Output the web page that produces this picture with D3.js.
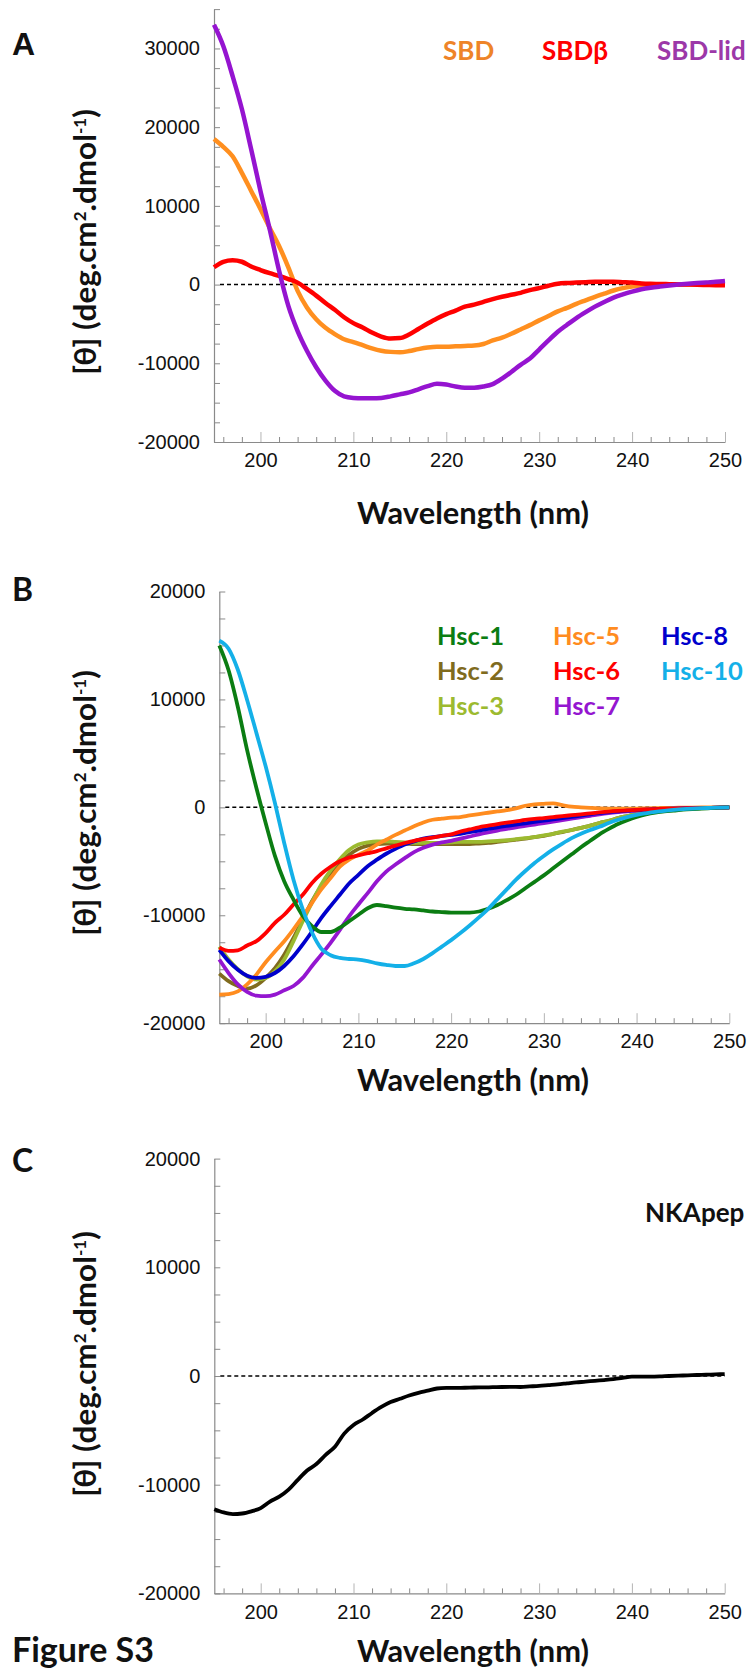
<!DOCTYPE html>
<html>
<head>
<meta charset="utf-8">
<script src="https://cdn.jsdelivr.net/npm/d3@7"></script>
<style>
body { margin: 0; background: #fff; }
svg text { font-family: Lato, "Open Sans", sans-serif; }
.tick text { font-family: "Liberation Sans", Arial, sans-serif; font-size: 20px; fill: #111; }
</style>
</head>
<body>
<svg id="fig" width="752" height="1674"></svg>
<script>
var svg = d3.select("#fig");

// Wavelengths (nm)
var wavelengths = [195,196,197,198,199,200,201,202,203,204,205,206,207,208,209,210,211,212,213,214,
                   215,216,217,218,219,220,221,222,223,224,225,226,227,228,229,230,231,232,233,234,
                   235,236,237,238,239,240,241,242,243,244,245,246,247,248,249,250];

// Panel A
var sbd = [18500,17500,16300,14200,11900,9600,7200,4900,2200,-800,
           -2900,-4400,-5500,-6300,-6950,-7300,-7700,-8100,-8400,-8550,
           -8600,-8450,-8200,-8000,-7900,-7900,-7850,-7800,-7750,-7550,
           -7100,-6750,-6250,-5700,-5150,-4550,-4000,-3400,-2950,-2450,
           -2000,-1550,-1150,-750,-450,-250,-120,-50,-10,0,
           0,0,0,0,0,0];
var sbdBeta = [2200,2900,3100,2900,2300,1850,1450,1100,700,250,
               -550,-1400,-2350,-3200,-4150,-4900,-5450,-6100,-6600,-6850,
               -6800,-6350,-5650,-4950,-4300,-3750,-3300,-2800,-2550,-2200,
               -1850,-1550,-1300,-1050,-700,-450,-150,100,200,250,
               300,350,350,350,300,250,150,100,80,50,
               20,0,-20,-50,-80,-100];
var sbdLid = [33000,30300,26500,22300,17200,11900,7000,1800,-2700,-5900,
              -8400,-10500,-12200,-13500,-14200,-14400,-14450,-14450,-14400,-14200,
              -13950,-13700,-13300,-12900,-12600,-12700,-12950,-13100,-13100,-12950,
              -12650,-11950,-11100,-10200,-9400,-8250,-7100,-6000,-5100,-4250,
              -3500,-2800,-2200,-1650,-1250,-900,-600,-400,-250,-120,
              0,100,200,280,350,450];

// Panel B
var hsc1 = [15000,12700,9300,5300,1800,-1450,-4500,-6850,-8550,-10050,
            -11000,-11550,-11550,-11150,-10550,-9950,-9350,-9050,-9150,-9300,
            -9400,-9450,-9550,-9650,-9700,-9750,-9750,-9750,-9650,-9400,
            -9050,-8600,-8100,-7500,-6900,-6300,-5650,-5000,-4350,-3700,
            -3100,-2500,-2000,-1550,-1200,-900,-650,-480,-380,-300,
            -220,-160,-110,-70,-30,0];
var hsc2 = [-15400,-16100,-16550,-16800,-16500,-15800,-14900,-13650,-12100,-10400,
            -8700,-7300,-6100,-5100,-4400,-3850,-3550,-3400,-3350,-3350,
            -3350,-3400,-3400,-3400,-3400,-3400,-3400,-3400,-3350,-3300,
            -3200,-3100,-3000,-2900,-2750,-2650,-2450,-2300,-2100,-1900,
            -1700,-1450,-1250,-1000,-800,-600,-480,-380,-300,-230,
            -170,-120,-80,-50,-20,0];
var hsc3 = [-12900,-14100,-15000,-15650,-15950,-15800,-15200,-14100,-12400,-10550,
            -8800,-7150,-5850,-4800,-3950,-3450,-3250,-3150,-3150,-3200,
            -3250,-3300,-3300,-3300,-3300,-3250,-3200,-3200,-3200,-3150,
            -3100,-3050,-2950,-2850,-2750,-2600,-2450,-2250,-2100,-1900,
            -1700,-1450,-1250,-1000,-800,-600,-480,-370,-290,-220,
            -160,-120,-80,-50,-20,0];
var hsc5 = [-17350,-17300,-17050,-16400,-15500,-14350,-13350,-12400,-11300,-10100,
            -8850,-7600,-6550,-5500,-4850,-4400,-4000,-3450,-3000,-2550,
            -2150,-1750,-1400,-1150,-1050,-950,-900,-750,-620,-500,
            -380,-260,-100,150,280,330,360,200,60,0,
            -50,-90,-110,-120,-120,-110,-90,-70,-50,-40,
            -30,-20,-10,0,0,0];
var hsc6 = [-13000,-13300,-13250,-12800,-12400,-11650,-10700,-9950,-9000,-8100,
            -7000,-6150,-5500,-5000,-4650,-4450,-4250,-4050,-3800,-3550,
            -3300,-3100,-2950,-2800,-2650,-2500,-2250,-2050,-1850,-1700,
            -1550,-1420,-1300,-1170,-1070,-990,-900,-810,-730,-650,
            -560,-470,-390,-330,-280,-240,-200,-160,-130,-110,
            -90,-80,-60,-40,-20,0];
var hsc7 = [-14100,-15350,-16400,-17100,-17450,-17500,-17350,-16950,-16550,-15800,
            -14700,-13650,-12550,-11350,-10100,-9000,-7950,-6850,-5950,-5300,
            -4700,-4150,-3750,-3450,-3250,-3100,-2900,-2700,-2500,-2320,
            -2150,-2000,-1850,-1720,-1590,-1460,-1320,-1180,-1040,-900,
            -780,-650,-540,-450,-370,-310,-260,-210,-170,-130,
            -100,-80,-60,-40,-20,0];
var hsc8 = [-13200,-14250,-15050,-15600,-15800,-15700,-15350,-14700,-13800,-12700,
            -11500,-10250,-9150,-8100,-7050,-6250,-5450,-4850,-4300,-3850,
            -3450,-3150,-2900,-2750,-2650,-2550,-2450,-2300,-2150,-2000,
            -1850,-1720,-1600,-1480,-1350,-1230,-1120,-1000,-880,-760,
            -640,-540,-450,-380,-310,-260,-210,-170,-140,-120,
            -100,-80,-60,-40,-20,0];
var hsc10 = [15450,14700,12750,9950,6900,3800,400,-3300,-6700,-9450,
             -11600,-13100,-13700,-13950,-14050,-14100,-14250,-14450,-14600,-14700,
             -14700,-14450,-14050,-13500,-12900,-12300,-11650,-10950,-10200,-9400,
             -8500,-7600,-6700,-5900,-5150,-4500,-3900,-3350,-2850,-2450,
             -2100,-1800,-1450,-1150,-900,-700,-550,-420,-320,-240,
             -170,-120,-80,-50,-20,0];

// Panel C
var nkapep = [-12250,-12550,-12700,-12650,-12450,-12150,-11550,-11100,-10450,-9550,
              -8700,-8100,-7250,-6500,-5300,-4500,-4000,-3400,-2850,-2400,
              -2100,-1800,-1550,-1350,-1150,-1100,-1090,-1080,-1060,-1050,
              -1030,-1010,-1000,-1010,-960,-910,-840,-770,-680,-590,
              -520,-440,-370,-290,-180,-60,-60,-60,-40,0,
              30,60,90,120,150,180];

// Ticks
var xTickValues = [196,198,200,202,204,206,208,210,212,214,216,218,220,222,224,226,228,230,
                   232,234,236,238,240,242,244,246,248,250];

// Series names and colours
var namesA = ["SBD", "SBD\u03b2", "SBD-lid"];
var lineColorsA = ["#ff8f1f", "#ff0000", "#9514d0"];
var textColorsA = ["#ee8428", "#ff0000", "#9c38a8"];

var namesB = ["Hsc-1", "Hsc-2", "Hsc-3", "Hsc-5", "Hsc-6", "Hsc-7", "Hsc-8", "Hsc-10"];
var colorsB = ["#0b7d12", "#806b1e", "#9cba30", "#ff8c1f", "#ff0000", "#9416d0", "#0000cc", "#14b0e8"];

var seriesA = [sbd, sbdBeta, sbdLid];
var seriesB = [hsc1, hsc2, hsc3, hsc5, hsc6, hsc7, hsc8, hsc10];
var drawOrderB = [1, 2, 3, 5, 6, 4, 0, 7];

var axisGray = "#8a8a8a";

function fitWidth(sel, w) {
  var fs = +sel.attr("font-size");
  var len = sel.node().getComputedTextLength();
  sel.attr("font-size", fs * w / len);
}

function drawPanel(p) {
  var g = svg.append("g");
  var x = d3.scaleLinear().domain([195, 250]).range([p.left, p.right]);
  var y = d3.scaleLinear().domain([-20000, p.yMax]).range([p.bottom, p.top]);

  // y axis
  var ya = g.append("g")
            .attr("transform", "translate(" + p.left + ",0)")
            .call(d3.axisLeft(y)
                    .tickValues(d3.range(-20000, p.yMax + 1, 2500))
                    .tickSizeInner(-6).tickSizeOuter(0).tickPadding(14)
                    .tickFormat(function(d) { return d % 10000 == 0 ? d : ""; }));
  ya.select(".domain").attr("stroke", axisGray).attr("stroke-width", 1.2);
  ya.selectAll(".tick line").attr("stroke", axisGray);

  // x axis
  var xa = g.append("g")
            .attr("transform", "translate(0," + p.bottom + ")")
            .call(d3.axisBottom(x)
                    .tickValues(xTickValues)
                    .tickSizeInner(-5).tickSizeOuter(0).tickPadding(11)
                    .tickFormat(function(d) { return d % 10 == 0 ? d : ""; }));
  xa.select(".domain").attr("stroke", axisGray).attr("stroke-width", 1.2);
  xa.selectAll(".tick line")
    .attr("stroke", function(d) { return d % 10 == 0 ? "#b4b4b4" : axisGray; })
    .attr("y2", function(d) { return d % 10 == 0 ? -10 : -5; });

  // zero line
  g.append("line")
   .attr("x1", x(195) + 6).attr("x2", x(250))
   .attr("y1", y(0)).attr("y2", y(0))
   .attr("stroke", "#000").attr("stroke-width", 1.5)
   .attr("stroke-dasharray", "4,3");

  // curves
  var line = d3.line()
               .x(function(d, i) { return x(wavelengths[i]); })
               .y(function(d) { return y(d); })
               .curve(d3.curveMonotoneX);
  p.series.forEach(function(s) {
    g.append("path")
     .datum(s.values)
     .attr("d", line)
     .attr("fill", "none")
     .attr("stroke", s.color)
     .attr("stroke-width", p.lineWidth)
     .attr("stroke-linejoin", "round");
  });

  // y label
  var yl = g.append("text")
            .attr("transform", "translate(" + p.ylabX + "," + p.ylabY + ") rotate(-90)")
            .attr("text-anchor", "middle")
            .attr("font-weight", 700)
            .attr("font-size", 27)
            .attr("fill", "#111");
  yl.append("tspan").text("[\u03b8] (deg.cm");
  yl.append("tspan").attr("baseline-shift", "super").attr("font-size", 17).text("2");
  yl.append("tspan").text(".dmol");
  yl.append("tspan").attr("baseline-shift", "super").attr("font-size", 17).text("-1");
  yl.append("tspan").text(")");
  fitWidth(yl, 270);

  // x label
  var xl = g.append("text")
            .attr("x", 473).attr("y", p.xlabY)
            .attr("text-anchor", "middle")
            .attr("font-weight", 700)
            .attr("font-size", 28)
            .attr("fill", "#111")
            .text("Wavelength (nm)");
  fitWidth(xl, 232);

  // panel letter
  g.append("text")
   .attr("x", 12).attr("y", p.letterY)
   .attr("font-weight", 700)
   .attr("font-size", 32)
   .style("font-family", p.letterFont)
   .attr("fill", "#111")
   .text(p.letter);
}

// Panel A
drawPanel({
  left: 214, right: 725, top: 9.1, bottom: 442, yMax: 35000,
  lineWidth: 4.5, ylabX: 96, ylabY: 242, xlabY: 524, letter: "A", letterY: 55,
  letterFont: "'Liberation Sans', Arial, sans-serif",
  series: seriesA.map(function(v, i) { return { values: v, color: lineColorsA[i] }; })
});
var legendAx = [443, 542, 657];
namesA.forEach(function(n, i) {
  svg.append("text")
     .attr("x", legendAx[i]).attr("y", 60)
     .attr("font-weight", 700).attr("font-size", 26)
     .attr("fill", textColorsA[i])
     .text(n);
});

// Panel B
drawPanel({
  left: 219.3, right: 729.3, top: 591.5, bottom: 1023.2, yMax: 20000,
  lineWidth: 3.8, ylabX: 96, ylabY: 803, xlabY: 1091, letter: "B", letterY: 601,
  letterFont: "Lato, sans-serif",
  series: drawOrderB.map(function(k) { return { values: seriesB[k], color: colorsB[k] }; })
});
var legendBx = [437, 437, 437, 553, 553, 553, 661, 661];
var legendBy = [645, 680, 715, 645, 680, 715, 645, 680];
namesB.forEach(function(n, i) {
  svg.append("text")
     .attr("x", legendBx[i]).attr("y", legendBy[i])
     .attr("font-weight", 700).attr("font-size", 25.5)
     .attr("fill", colorsB[i])
     .text(n);
});

// Panel C
drawPanel({
  left: 214.3, right: 724.7, top: 1158.6, bottom: 1593.4, yMax: 20000,
  lineWidth: 3.8, ylabX: 96, ylabY: 1364, xlabY: 1662, letter: "C", letterY: 1172,
  letterFont: "Lato, sans-serif",
  series: [{ values: nkapep, color: "#000" }]
});
svg.append("text")
   .attr("x", 645).attr("y", 1222)
   .attr("font-weight", 700).attr("font-size", 26)
   .attr("fill", "#111")
   .text("NKApep");

svg.append("text")
   .attr("x", 12).attr("y", 1662)
   .attr("font-weight", 700).attr("font-size", 34)
   .attr("fill", "#111")
   .text("Figure S3");
</script>
</body>
</html>
